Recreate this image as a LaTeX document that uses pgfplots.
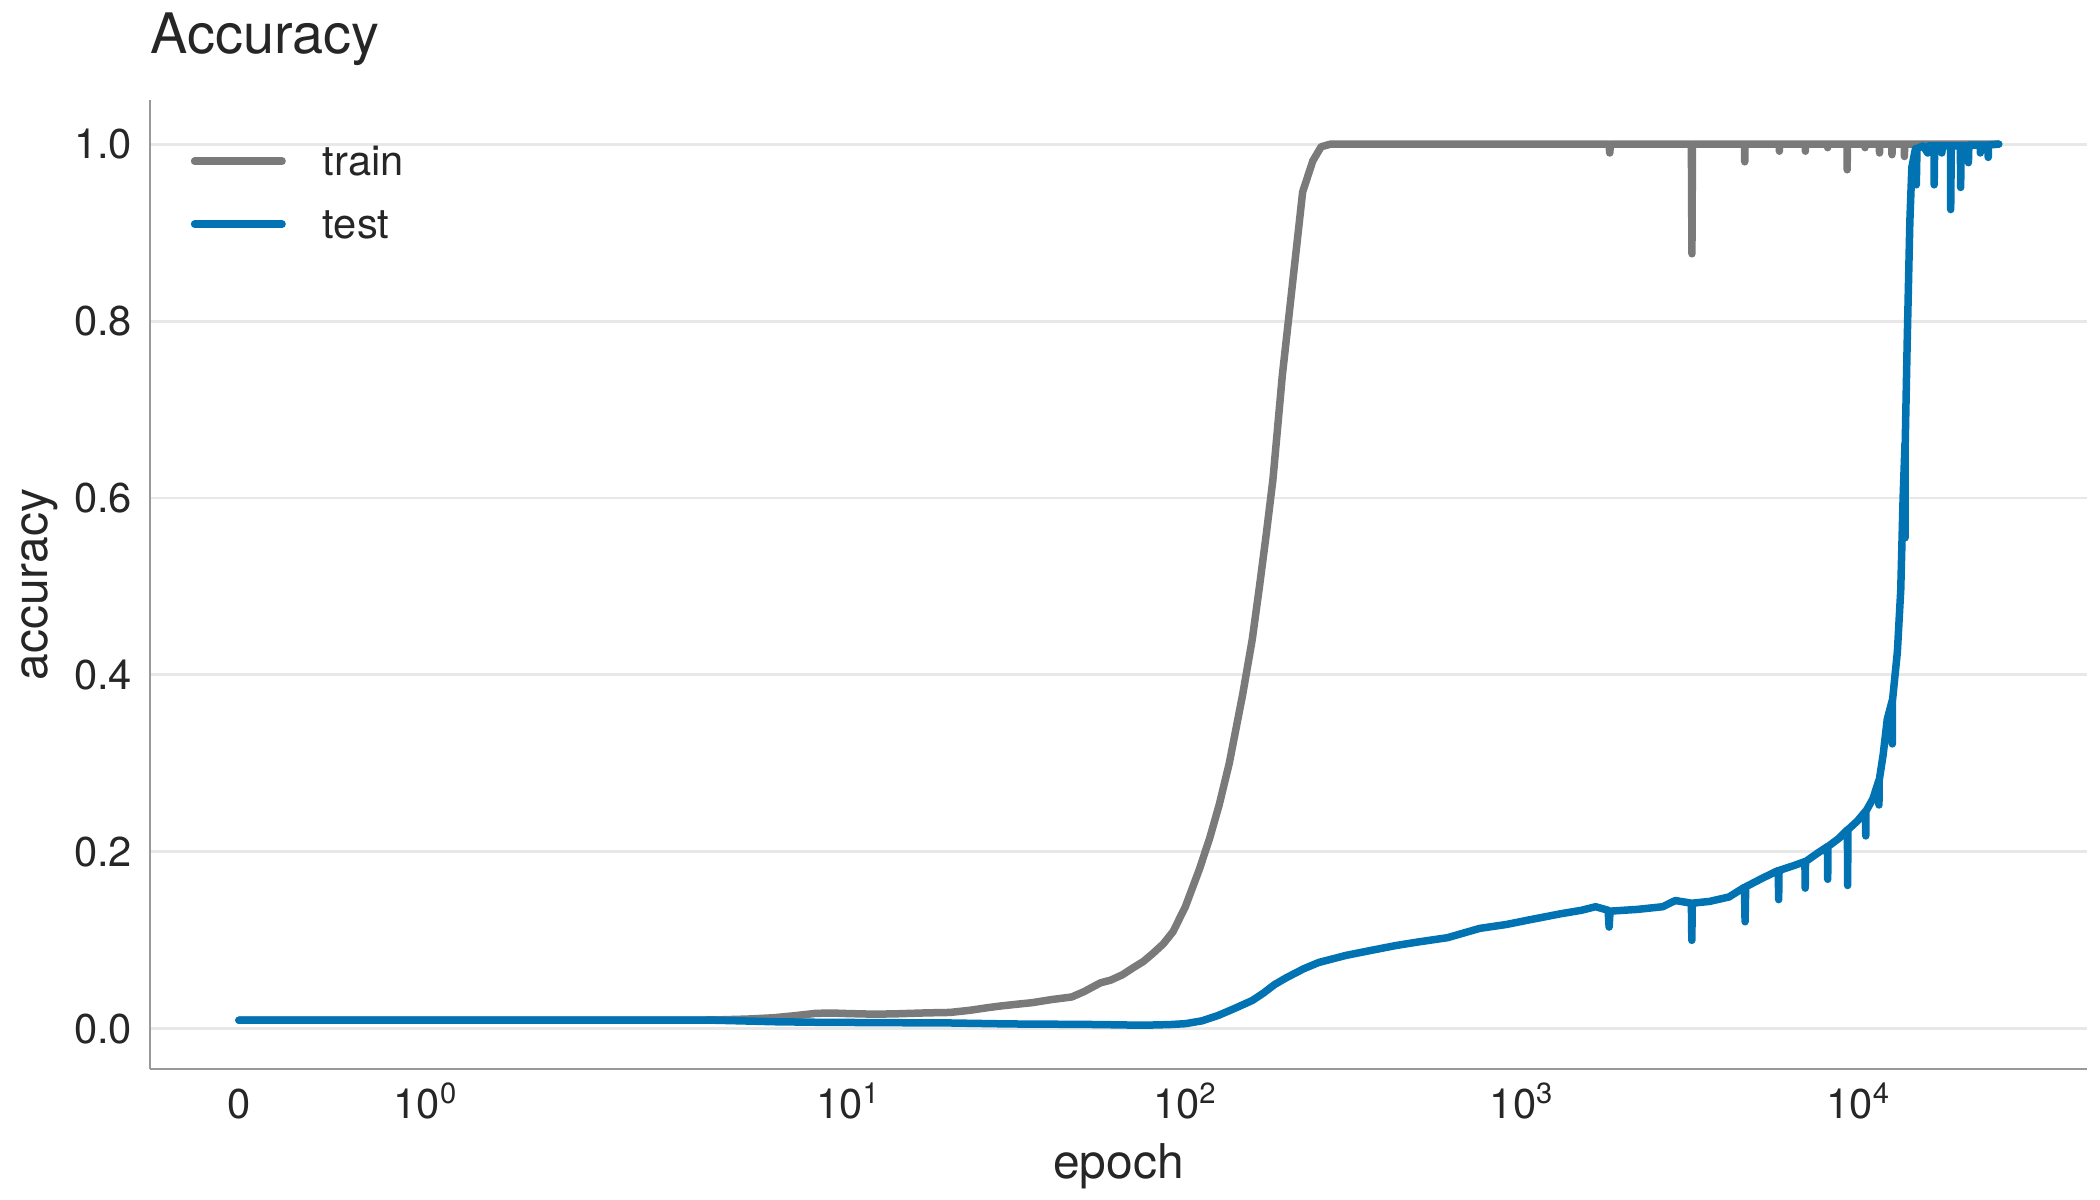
\documentclass[border=0pt]{standalone}
\usepackage{fontspec}
\setmainfont{TeX Gyre Heros}
\usepackage{pgfplots}
\pgfplotsset{compat=1.18}
\definecolor{traingray}{HTML}{7A7A7A}
\definecolor{testblue}{HTML}{0173B2}
\definecolor{spinec}{HTML}{999999}
\definecolor{gridc}{HTML}{E8E8E8}
\definecolor{textc}{HTML}{262626}

\pgfplotstableread{
epoch acc
0 0.0097
1 0.0097
2 0.0098
3 0.0098
4 0.0100
5 0.0110
6 0.0125
7 0.0150
8 0.0175
9 0.0178
10 0.0172
12 0.0165
14 0.0170
17 0.0180
20 0.0185
23 0.0210
26 0.0240
28 0.0256
32 0.0280
35 0.0295
40 0.0330
46 0.0360
50 0.0420
56 0.0520
60 0.0550
65 0.0610
70 0.0690
75 0.0760
80 0.0850
86 0.0960
92 0.1100
100 0.1380
110 0.1800
118 0.2150
126 0.2530
135 0.3000
148 0.3780
158 0.4400
166 0.5000
174 0.5600
182 0.6210
194 0.7380
208 0.8420
223 0.9460
239 0.9810
253 0.9970
270 1.0
1810 1.0
1820 0.990
1830 1.0
3180 1.0
3192 0.876
3204 1.0
4570 1.0
4580 0.980
4590 1.0
5795 1.0
5804 0.992
5813 1.0
6925 1.0
6934 0.992
6943 1.0
8063 1.0
8072 0.996
8081 1.0
9215 1.0
9226 0.971
9237 1.0
10412 1.0
10424 0.996
10436 1.0
11495 1.0
11508 0.990
11521 1.0
12518 1.0
12532 0.988
12546 1.0
13630 1.0
13646 0.986
13662 1.0
26000 1.0
}\traindata

\pgfplotstableread{
epoch acc
0 0.0097
2 0.0097
4 0.0097
5 0.0088
6 0.0080
8 0.0074
12 0.0070
20 0.0066
30 0.0055
40 0.0052
50 0.0050
60 0.0046
70 0.0042
80 0.0043
90 0.0048
100 0.0058
112 0.0090
125 0.0150
140 0.0230
158 0.0320
170 0.0400
184 0.0500
200 0.0580
225 0.0680
249 0.0750
300 0.0830
360 0.0890
420 0.0940
488 0.0980
600 0.1030
748 0.1135
900 0.1180
1045 0.1230
1300 0.1300
1500 0.1340
1652 0.1380
1800 0.1340
1812 0.1150
1824 0.1330
2200 0.1350
2614 0.1380
2850 0.1450
3180 0.1420
3190 0.1000
3200 0.1420
3600 0.1440
4112 0.1490
4570 0.1600
4590 0.1210
4610 0.1605
5150 0.1700
5760 0.1790
5775 0.1460
5790 0.1790
6350 0.1840
6910 0.1890
6925 0.1590
6940 0.1890
7500 0.1980
8060 0.2060
8075 0.1690
8090 0.2060
8700 0.2150
9240 0.2250
9255 0.1620
9270 0.2250
9900 0.2350
10460 0.2460
10475 0.2180
10490 0.2460
11000 0.2600
11450 0.2805
11465 0.2530
11480 0.2805
11800 0.3100
12135 0.3500
12550 0.3710
12562 0.3220
12575 0.3710
13002 0.4260
13304 0.4956
13522 0.6000
13700 0.6620
13710 0.5550
13720 0.6620
13900 0.7730
14160 0.9120
14356 0.9740
14724 0.9950
14800 0.9540
14870 0.9950
15500 0.9980
16000 0.9900
16100 0.9980
16700 0.9980
16720 0.9540
16780 0.9980
17600 0.9980
17620 0.9900
17700 0.9980
18700 0.9980
18720 0.9260
18800 0.9980
20000 0.9980
20040 0.9510
20100 0.9980
21100 0.9980
21130 0.9790
21200 0.9990
22900 0.9990
22930 0.9900
23000 0.9990
24150 0.9990
24200 0.9850
24250 0.9990
26000 1.0
}\testdata

\begin{document}
\begin{tikzpicture}
\useasboundingbox (-36pt,-31.44pt) rectangle (468pt,256.56pt);
\begin{axis}[
  at={(0,0)}, anchor=south west,
  width=464.88pt, height=232.56pt, scale only axis,
  x coord trafo/.code={\begingroup\pgfkeys{/pgf/fpu=true,/pgf/fpu/output format=fixed}\pgfmathparse{(#1<=2)*(#1/1.8)+(#1>2)*(1.111111+log10(max(#1,2)/2))}\pgfmathsmuggle\pgfmathresult\endgroup},
  xmin=-0.475, xmax=47540,
  ymin=-0.0454, ymax=1.0499,
  axis x line*=bottom, axis y line*=left,
  axis line style={draw=spinec, line width=0.7pt, -},
  major tick length=0pt, minor tick num=0,
  xtick={0,1,10,100,1000,10000},
  xticklabels={0,10\textsuperscript{0},10\textsuperscript{1},10\textsuperscript{2},10\textsuperscript{3},10\textsuperscript{4}},
  ytick={0,0.2,0.4,0.6,0.8,1.0},
  yticklabels={0.0,0.2,0.4,0.6,0.8,1.0},
  ymajorgrids, grid style={draw=gridc, line width=0.7pt},
  tick label style={font=\fontsize{10}{12}\selectfont, text=textc},
  yticklabel style={inner sep=0pt, anchor=east, xshift=-4.1pt},
  xticklabel style={inner sep=0pt, anchor=base, yshift=-11.8pt},
  xlabel={epoch}, ylabel={accuracy},
  label style={font=\fontsize{11.5}{14}\selectfont, text=textc},
  xlabel style={at={(axis description cs:0.5,0)}, anchor=base, yshift=-26.2pt, inner sep=0pt},
  ylabel style={at={(axis description cs:-0.0531,0.5)}, anchor=base, inner sep=0pt},
  title={Accuracy},
  title style={at={(axis description cs:0,1)}, anchor=base west, yshift=5.1pt, inner sep=0pt, font=\fontsize{13.4}{16}\selectfont, text=textc},
  legend style={draw=none, fill=none, at={(axis description cs:0,1)}, anchor=north west, xshift=9.6pt, yshift=-11pt, inner sep=0pt, font=\fontsize{10}{12}\selectfont, text=textc, row sep=8.1pt, column sep=8.9pt, nodes={inner sep=0pt, text height=7pt, text depth=0pt}},
  legend cell align=left,
  legend image code/.code={\draw[#1, line cap=round] (0pt,0pt) -- (21pt,0pt);},
  every axis plot/.append style={line width=1.8pt, line join=round, line cap=round},
]
\addplot[traingray, no markers] table[x=epoch, y=acc] {\traindata};
\addlegendentry{train}
\addplot[testblue, no markers] table[x=epoch, y=acc] {\testdata};
\addlegendentry{test}
\end{axis}
\end{tikzpicture}
\end{document}
